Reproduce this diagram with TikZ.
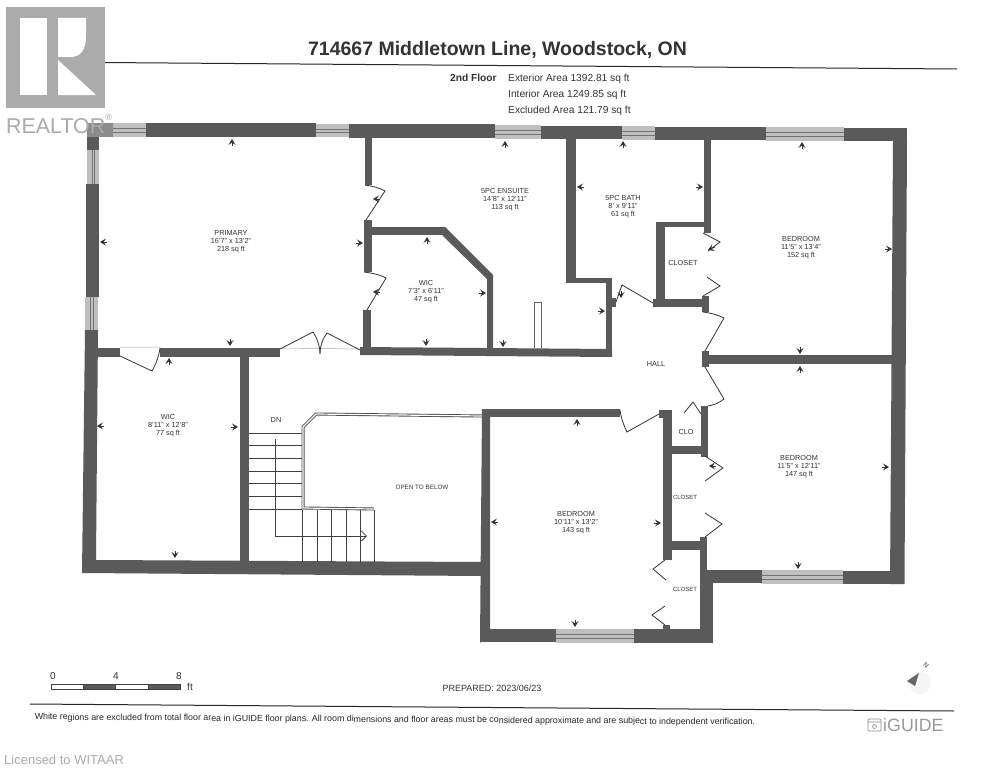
\documentclass[tikz,border=0pt]{standalone}
\usepackage{fontspec}
\setmainfont{Liberation Sans}
\usetikzlibrary{arrows.meta, calc}
\definecolor{wallgray}{HTML}{5A5A5A}
\definecolor{logogray}{HTML}{ABABAB}
\definecolor{inkgray}{HTML}{333333}
\tikzset{
    wall/.style={fill=wallgray},
    leaf/.style={draw=black!80, line width=0.8pt},
    dimtick/.style={draw=black!80, line width=0.8pt, -{Stealth[length=6pt, width=7pt, inset=2.5pt]}},
    roomlabel/.style={font=\fontsize{7.3}{8}\selectfont, text=inkgray, align=center, inner sep=0pt},
    infolabel/.style={font=\fontsize{10.2}{12}\selectfont, text=inkgray, anchor=west, inner sep=0pt},
    rule/.style={draw=black!85, line width=1pt},
    tread/.style={draw=black!75, line width=0.8pt},
    scalelabel/.style={font=\fontsize{10}{12}\selectfont, text=inkgray, inner sep=0pt}
}
\begin{document}
\begin{tikzpicture}[x=1pt, y=-1pt]
    \useasboundingbox (0,0) rectangle (993,768);
    \fill[white] (0,0) rectangle (993,768);

    % title block
    \node[font=\bfseries\fontsize{19.5}{22}\selectfont, text=inkgray, inner sep=0pt] (title) at (497.5,50) {714667 Middletown Line, Woodstock, ON};
    \draw[rule] (37,62) -- (957,69);
    \node[infolabel, font=\bfseries\fontsize{10.2}{12}\selectfont] (floor) at (450,78) {2nd Floor};
    \node[infolabel] (exterior) at (508,79) {Exterior Area 1392.81 sq ft};
    \node[infolabel] (interior) at (508,95) {Interior Area 1249.85 sq ft};
    \node[infolabel] (excluded) at (508,111) {Excluded Area 121.79 sq ft};

    % windows
    \foreach \xa/\ya/\xb/\yb in {113/123/146/137, 316/124/349/137, 495/125/541/139, 622/126/655/140, 766/127/844/141}{
        \fill[black!25] (\xa,\ya) rectangle (\xb,\yb);
        \draw[black!55, line width=0.7pt] (\xa,\ya+5) -- (\xb,\ya+5) (\xa,\yb-5) -- (\xb,\yb-5);
    }
    \foreach \xa/\ya/\xb/\yb in {87/150/99/184, 85/297/98/330}{
        \fill[black!25] (\xa,\ya) rectangle (\xb,\yb);
        \draw[black!55, line width=0.7pt] (\xa+5,\ya) -- (\xa+5,\yb) (\xb-5,\ya) -- (\xb-5,\yb);
    }
    \foreach \xa/\ya/\xb/\yb in {762/570/843/584, 556/629/634/643}{
        \fill[black!25] (\xa,\ya) rectangle (\xb,\yb);
        \draw[black!55, line width=0.7pt] (\xa,\ya+5) -- (\xb,\ya+5) (\xa,\yb-5) -- (\xb,\yb-5);
    }

    % walls, left to right
    \fill[black!45] (87,123) rectangle (113,137);
    \foreach \xa/\ya/\xb/\yb in {
        146/123/316/137, 349/124/495/138, 541/126/622/139, 655/127/766/140, 844/128/907/141,
        87/137/99/150, 86/184/99/297,
        97/348/120/357, 160/348/280/357, 240/357/249/561,
        365/137/372/185, 364/220/372/272, 363/310/371/350, 372/227/445/235,
        566/139/576/283, 566/278/612/283, 606/278/612/357, 608/298/616/307,
        704/140/711/233, 656/222/704/227, 656/222/665/307, 653/299/708/307, 702/296/709/312,
        702/351/709/367, 709/355/892/364,
        707/570/762/583, 843/571/904/584, 700/537/707/570,
        482/409/620/417, 659/410/672/418, 663/410/672/560, 670/446/703/454, 701/406/708/457,
        670/541/703/550, 663/625/670/630,
        480/629/556/642, 634/629/713/643}{
        \fill[wall] (\xa,\ya) rectangle (\xb,\yb);
    }
    \fill[wall] (85,330) -- (98,330) -- (96,560) -- (482,562) -- (482,576) -- (82,573) -- cycle;
    \fill[wall] (893,141) -- (907,141) -- (904.5,584) -- (890,584) -- cycle;
    \fill[wall] (482,409) -- (490,409) -- (490,629) -- (480,643) -- cycle;
    \fill[wall] (700,570) -- (713,570) -- (713,643) -- (700,643) -- cycle;
    \fill[wall] (360,347) -- (612,349) -- (612,357) -- (360,355) -- cycle;
    \fill[wall] (445,227) -- (493,275) -- (493,348) -- (487,348) -- (487,279) -- (442,235) -- cycle;

    % thin gaps and the ledge in the ensuite
    \draw[black!35, line width=0.5pt] (120,347) -- (160,347) (280,348) -- (360,349);
    \draw[black!60, line width=0.6pt] (534,348) -- (534,302) -- (541,302) -- (541,348);

    % door leaves
    \draw[leaf] (120,356) -- (152,371) .. controls (156,364) and (159,356) .. (160,348);
    \draw[leaf] (280,349) -- (313,332) .. controls (317,338) and (320,346) .. (320,354);
    \draw[leaf] (360,350) -- (327,333) .. controls (323,338) and (320,346) .. (320,354);
    \draw[leaf] (365,185) .. controls (372,186) and (380,188) .. (385,191) -- (366,220);
    \draw[leaf] (364,272) .. controls (372,273) and (381,275) .. (386,278) -- (367,310);
    \draw[leaf] (703,233) -- (720,242) -- (708,251);
    \draw[leaf] (707,277) -- (720,286) -- (703,296);
    \draw[leaf] (703,312) .. controls (711,313) and (718,315) .. (724,318) -- (705,351);
    \draw[leaf] (616,302) -- (622,285) -- (653,303);
    \draw[leaf] (705,367) -- (724,399) .. controls (719,403) and (714,405) .. (708,406);
    \draw[leaf] (684,413) -- (693,402) -- (701,414);
    \draw[leaf] (705,456) -- (723,468) -- (705,481);
    \draw[leaf] (705,513) -- (722,524) -- (705,537);
    \draw[leaf] (620,410) .. controls (621,418) and (624,426) .. (627,432) -- (659,414);
    \draw[leaf] (665,560) -- (653,569) -- (666,580);
    \draw[leaf] (665,606) -- (652,615) -- (665,625);

    % stairs
    \foreach \y in {433,445,458,471,483,496,509}{
        \draw[tread] (249,\y) -- (302,\y);
    }
    \foreach \x in {302,317,331,346,360,374}{
        \draw[tread] (\x,510) -- (\x,562);
    }
    \draw[draw=black!70, line width=0.9pt, double=white, double distance=1.2pt, line join=miter] (482,416) -- (316,414) -- (303,427) -- (303,508) -- (374,509);
    \draw[tread, -{Straight Barb[length=5pt, width=10pt]}] (275,439) -- (275,536) -- (367,536);

    % dimension ticks
    \foreach \xa/\ya/\xb/\yb in {
        232/146/232/139, 107/242/100/242, 356/243/363/243, 230/339/230/346,
        427/244/427/237, 479/293/486/293, 426/339/426/346, 380/292/373/292, 380/199/373/199,
        505/148/505/141, 598/311/605/311, 503/340/503/347,
        623/148/623/141, 584/187/577/187, 696/187/703/187, 621/291/621/298,
        802/149/802/142, 885/249/892/249, 800/347/800/354, 715/247/708/250,
        800/373/800/366, 798/562/798/569, 882/467/889/467, 716/466/709/466,
        577/426/577/419, 498/522/491/522, 654/523/661/523, 575/620/575/627,
        169/365/169/358, 104/426/97/426, 231/427/238/427, 175/551/175/558}{
        \draw[dimtick] (\xa,\ya) -- (\xb,\yb);
    }

    % room labels
    \node[roomlabel] (primary) at (231,242) {PRIMARY\\16'7" x 13'2"\\218 sq ft};
    \node[roomlabel] (wicone) at (426,292) {WIC\\7'3" x 6'11"\\47 sq ft};
    \node[roomlabel] (ensuite) at (505,200) {5PC ENSUITE\\14'8" x 12'11"\\113 sq ft};
    \node[roomlabel] (bath) at (623,207) {5PC BATH\\8' x 9'11"\\61 sq ft};
    \node[roomlabel] (bedroomone) at (801,248) {BEDROOM\\11'5" x 13'4"\\152 sq ft};
    \node[roomlabel] (bedroomtwo) at (799,467) {BEDROOM\\11'5" x 12'11"\\147 sq ft};
    \node[roomlabel] (bedroomthree) at (576,523) {BEDROOM\\10'11" x 13'2"\\143 sq ft};
    \node[roomlabel] (wictwo) at (168,426) {WIC\\8'11" x 12'8"\\77 sq ft};
    \node[roomlabel] (closetone) at (683,263) {CLOSET};
    \node[roomlabel] (hall) at (656,364) {HALL};
    \node[roomlabel] (clo) at (686,432) {CLO};
    \node[roomlabel, font=\fontsize{6}{7}\selectfont] (closettwo) at (685,497) {CLOSET};
    \node[roomlabel, font=\fontsize{6}{7}\selectfont] (closetthree) at (685,589) {CLOSET};
    \node[roomlabel] (down) at (276,420) {DN};
    \node[roomlabel, font=\fontsize{6.3}{7}\selectfont] (open) at (422,487) {OPEN TO BELOW};

    % logo, over the corner of the plan
    \fill[logogray] (6,7) rectangle (105,108);
    \fill[white] (20,18) rectangle (47,95);
    \fill[white] (58,18) -- (86,18) -- (86,36) .. controls (86,48) and (82,56) .. (72,57) -- (58,57) -- cycle;
    \fill[white] (58,60) -- (96,95) -- (58,95) -- cycle;
    \node[font=\fontsize{21.4}{24}\selectfont, text=logogray, anchor=west, inner sep=0pt] (realtor) at (6,124) {REALTOR\raisebox{1.1ex}{\fontsize{9}{10}\selectfont\textregistered}};

    % scale bar
    \node[scalelabel] (zero) at (53,676) {0};
    \node[scalelabel] (four) at (116,676) {4};
    \node[scalelabel] (eight) at (179,676) {8};
    \node[scalelabel] (feet) at (190,687) {ft};
    \foreach \xa/\xb/\col in {51/83/white, 83/115/wallgray, 115/148/white, 148/180/wallgray}{
        \filldraw[draw=black!75, line width=0.5pt, fill=\col] (\xa,684) rectangle (\xb,689);
    }

    % footer
    \node[font=\fontsize{9}{11}\selectfont, text=inkgray, inner sep=0pt] (prepared) at (492,688) {PREPARED: 2023/06/23};
    \draw[rule] (30,704) -- (954,711);
    \node[font=\fontsize{8.85}{10}\selectfont, text=black!85, inner sep=0pt, rotate=-0.4] (note) at (395,720) {White regions are excluded from total floor area in iGUIDE floor plans. All room dimensions and floor areas must be considered approximate and are subject to independent verification.};
    \draw[black!45, line width=0.7pt, rounded corners=1pt] (868,719) rectangle (881,731);
    \draw[black!45, line width=0.6pt] (874.5,726.5) circle (2pt) (868,722) -- (881,722);
    \node[font=\fontsize{17.8}{20}\selectfont, text=black!40, inner sep=0pt, anchor=west] (iguide) at (883,725) {iGUIDE};
    \node[font=\fontsize{13}{15}\selectfont, text=logogray, inner sep=0pt, anchor=west] (licence) at (4,760) {Licensed to WITAAR};

    % north arrow
    \fill[black!4] (920,683) circle (11pt);
    \fill[black!60] (907,681) -- (919,673) -- (915,686) -- cycle;
    \node[font=\fontsize{6.5}{8}\selectfont, text=inkgray, inner sep=0pt, rotate=-40] (north) at (926,665) {N};
\end{tikzpicture}
\end{document}
